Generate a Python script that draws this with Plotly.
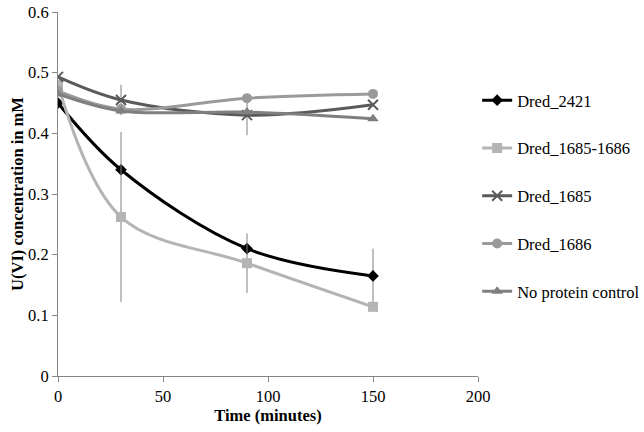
import plotly.graph_objects as go

time = [0, 30, 90, 150]

names = ["Dred_2421", "Dred_1685-1686", "Dred_1685", "Dred_1686", "No protein control"]
dred_2421 = [0.45, 0.34, 0.21, 0.165]
dred_1685_1686 = [0.48, 0.262, 0.186, 0.114]
dred_1685 = [0.493, 0.455, 0.43, 0.447]
dred_1686 = [0.47, 0.44, 0.458, 0.465]
no_protein = [0.465, 0.437, 0.435, 0.424]

err_2421 = [0.0, 0.0, 0.0, 0.045]
err_1685_1686 = [0.0, 0.14, 0.049, 0.0]
err_1685 = [0.0, 0.025, 0.033, 0.0]
err_1686 = [0.0, 0.0, 0.0, 0.0]
err_no_protein = [0.0, 0.0, 0.0, 0.0]

series = [dred_2421, dred_1685_1686, dred_1685, dred_1686, no_protein]
errors = [err_2421, err_1685_1686, err_1685, err_1686, err_no_protein]
colors = ["#000000", "#b4b4b4", "#5a5a5a", "#9a9a9a", "#7f7f7f"]
symbols = ["diamond", "square", "x-thin", "circle", "triangle-up"]
sizes = [9, 10, 10, 10, 10]

fig = go.Figure()
for i, (nm, ys, er) in enumerate(zip(names, series, errors)):
    fig.add_trace(go.Scatter(
        x=time, y=ys, name=nm, mode="lines+markers",
        line=dict(color=colors[i], width=3, shape="spline", smoothing=1.0),
        marker=dict(symbol=symbols[i], size=sizes[i], color=colors[i],
                    line=dict(color=colors[i], width=2 if symbols[i] == "x-thin" else 0)),
        error_y=dict(type="data", array=er, visible=True, color="#808080", thickness=1, width=0),
        legendgroup=nm,
    ))

font_family = "Liberation Serif, Times New Roman, serif"
fs = 16.5
fig.update_layout(
    width=644, height=432,
    margin=dict(l=58, r=166, t=12, b=56, autoexpand=False),
    paper_bgcolor="white", plot_bgcolor="white",
    font=dict(family=font_family, size=fs, color="#000000"),
    showlegend=True,
    legend=dict(x=0.998, y=0.805, xanchor="left", yanchor="top",
                bgcolor="rgba(0,0,0,0)",
                font=dict(family=font_family, size=fs, color="#000000"),
                tracegroupgap=23.3, itemwidth=30),
    xaxis=dict(range=[0, 200], dtick=50, showgrid=False, zeroline=False,
               showline=True, linecolor="#868686", linewidth=1, automargin=False,
               ticks="outside", ticklen=5, tickcolor="#868686",
               tickfont=dict(family=font_family, size=fs),
               title=dict(text="<b>Time (minutes)</b>", font=dict(family=font_family, size=fs), standoff=4)),
    yaxis=dict(range=[0, 0.6], dtick=0.1, showgrid=False, zeroline=False,
               showline=True, linecolor="#868686", linewidth=1, automargin=False,
               ticks="outside", ticklen=5, tickcolor="#868686",
               tickfont=dict(family=font_family, size=fs),
               title=dict(text="<b>U(VI) concentration in mM</b>", font=dict(family=font_family, size=fs), standoff=0)),
)

fig.write_html("out.html", config={"displayModeBar": False},
               post_script="document.body.style.margin='0';")
